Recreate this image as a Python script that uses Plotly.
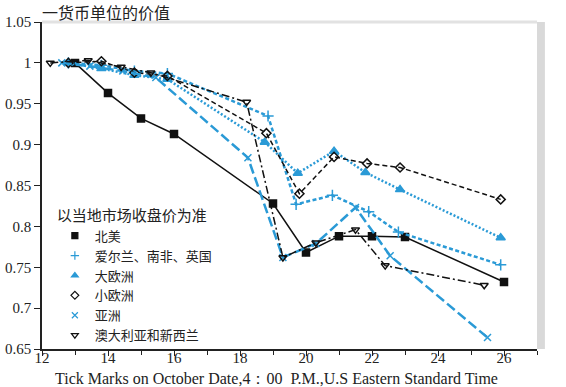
import plotly.graph_objects as go

# ---- data ----
na_x = [13, 14, 15, 16, 19, 20, 21, 22, 23, 26]
na_y = [1.0, 0.963, 0.932, 0.913, 0.828, 0.768, 0.788, 0.788, 0.787, 0.732]

uk_x = [12.8, 13.8, 14.8, 15.8, 18.85, 19.7, 20.8, 21.9, 22.8, 25.9]
uk_y = [1.0, 0.997, 0.99, 0.987, 0.935, 0.827, 0.838, 0.818, 0.793, 0.753]

beu_x = [12.8, 13.8, 14.8, 15.8, 18.75, 19.75, 20.85, 21.8, 22.85, 25.9]
beu_y = [1.0, 0.993, 0.985, 0.98, 0.903, 0.865, 0.892, 0.866, 0.845, 0.786]

seu_x = [12.8, 13.8, 14.8, 15.8, 18.8, 19.8, 20.85, 21.85, 22.85, 25.9]
seu_y = [1.0, 1.002, 0.988, 0.984, 0.914, 0.840, 0.885, 0.877, 0.872, 0.833]

asia_x = [12.6, 13.45, 14.45, 15.45, 18.24, 19.3, 20.3, 21.5, 22.55, 25.5]
asia_y = [1.0, 0.996, 0.99, 0.982, 0.884, 0.762, 0.779, 0.823, 0.764, 0.664]

aus_x = [12.25, 13.4, 14.4, 15.3, 18.2, 19.3, 20.3, 21.5, 22.4, 25.4]
aus_y = [1.0, 1.003, 0.995, 0.988, 0.952, 0.762, 0.78, 0.796, 0.752, 0.728]

names = ["北美", "爱尔兰、南非、英国", "大欧洲", "小欧洲", "亚洲", "澳大利亚和新西兰"]
y_ticks = [0.65, 0.7, 0.75, 0.8, 0.85, 0.9, 0.95, 1.0, 1.05]
y_labels = ["0.65", "0.7", "0.75", "0.8", "0.85", "0.9", "0.95", "1", "1.05"]
x_ticks = [12, 14, 16, 18, 20, 22, 24, 26]

BLUE = "#2a9ad6"
BLACK = "#111111"

series = [
    (na_x, na_y, BLACK, "solid", 1.5, "square", BLACK, 7),
    (uk_x, uk_y, BLUE, "4px,2.5px", 2.5, "cross-thin", BLUE, 8),
    (beu_x, beu_y, BLUE, "2px,2px", 2.5, "triangle-up", BLUE, 8),
    (seu_x, seu_y, BLACK, "5px,3px", 1.5, "diamond-open", BLACK, 7),
    (asia_x, asia_y, BLUE, "10px,4px", 2.5, "x-thin", BLUE, 7),
    (aus_x, aus_y, BLACK, "8px,3px,2px,3px", 1.5, "triangle-down-open", BLACK, 7),
]

fig = go.Figure()
for (xs, ys, col, dash, w, sym, mcol, ms), nm in zip(series, names):
    fig.add_trace(go.Scatter(
        x=xs, y=ys, mode="lines+markers", name=nm, showlegend=False,
        line=dict(color=col, dash=dash, width=w),
        marker=dict(symbol=sym, size=ms, color=mcol,
                    line=dict(color=mcol, width=1.5)),
    ))
# legend-only marker entries
for (xs, ys, col, dash, w, sym, mcol, ms), nm in zip(series, names):
    fig.add_trace(go.Scatter(
        x=[None], y=[None], mode="markers", name=nm, showlegend=True,
        marker=dict(symbol=sym, size=6, color=mcol,
                    line=dict(color=mcol, width=1.2)),
    ))

serif = "Liberation Serif, Times New Roman, serif"
cjk = "Noto Sans CJK SC"

fig.update_layout(
    width=566, height=387,
    margin=dict(l=42, r=29, t=22, b=38),
    paper_bgcolor="white", plot_bgcolor="white",
    showlegend=True,
    legend=dict(
        x=0.026, y=0.452, xanchor="left", yanchor="top",
        bgcolor="rgba(0,0,0,0)",
        font=dict(family=cjk, size=13, color="#222"),
        title=dict(text="以当地市场收盘价为准", font=dict(family=cjk, size=15, color="#222")),
        itemwidth=30, tracegroupgap=0,
    ),
    xaxis=dict(
        range=[12, 27], tickvals=x_ticks, ticktext=[str(v) for v in x_ticks],
        automargin=False,
        showgrid=False, zeroline=False, showline=True, linecolor="#222", linewidth=1.5,
        ticks="outside", ticklen=5, tickcolor="#222", ticklabelstandoff=-11,
        minor=dict(dtick=1, ticks="outside", ticklen=4, tickcolor="#222", showgrid=False),
        tickfont=dict(family=serif, size=15, color="#222"),
    ),
    yaxis=dict(
        range=[0.65, 1.05], tickvals=y_ticks, ticktext=y_labels,
        automargin=False,
        showgrid=False, zeroline=False, showline=True, linecolor="#222", linewidth=1.5,
        ticks="outside", ticklen=6, tickcolor="#222",
        tickfont=dict(family=serif, size=15, color="#222"),
    ),
)
fig.add_annotation(text="一货币单位的价值", xref="paper", yref="paper",
                   x=-0.004, y=1.0, xanchor="left", yanchor="middle", yshift=10,
                   showarrow=False, font=dict(family=cjk, size=16, color="#222"))
fig.add_annotation(text="Tick Marks on October Date,4：00  P.M.,U.S Eastern Standard Time",
                   xref="paper", yref="paper", x=0.473, y=0, xanchor="center", yanchor="middle",
                   yshift=-29, showarrow=False, font=dict(family=serif, size=16, color="#222"))
# frame shadow on right and top
fig.add_shape(type="rect", xref="paper", yref="paper", x0=1.0, x1=1.016, y0=0, y1=1.0,
              fillcolor="#d9d9d9", line=dict(width=0), layer="below")
fig.add_shape(type="line", xref="paper", yref="paper", x0=0, x1=1.0, y0=1.0, y1=1.0,
              line=dict(color="#e2e2e2", width=3))

fig.write_html("out.html", config={"displayModeBar": False},
               post_script="document.body.style.margin='0';")
